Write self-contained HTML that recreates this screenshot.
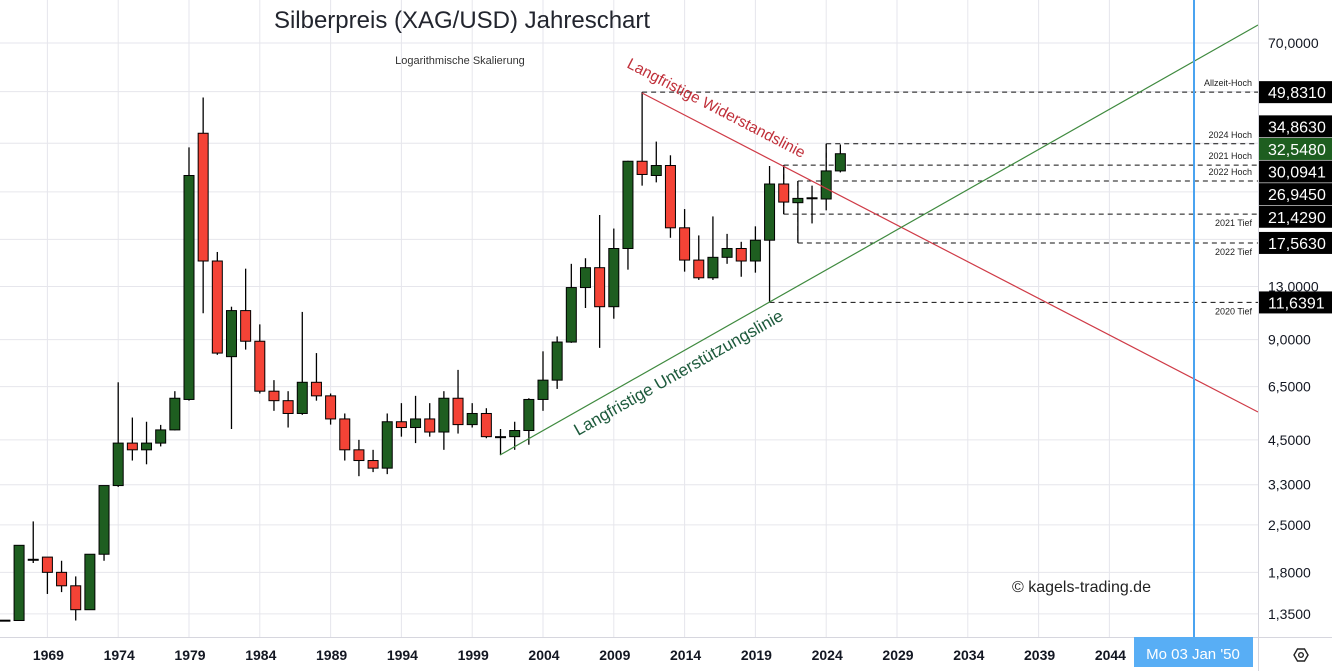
<!DOCTYPE html>
<html><head><meta charset="utf-8"><style>
html,body{margin:0;padding:0;background:#fff;}
svg{display:block;font-family:"Liberation Sans","DejaVu Sans",sans-serif;}
</style></head><body>
<svg id="chart" width="1332" height="671" viewBox="0 0 1332 671" xmlns="http://www.w3.org/2000/svg">
<g id="grid"></g>
<g id="levels"></g>
<g id="candles"></g>
<g id="trend">
<line x1="642" y1="93" x2="1258" y2="412" stroke="#cf3b47" stroke-width="1.2"/>
<line x1="500" y1="455" x2="1258" y2="25" stroke="#3f8a3f" stroke-width="1.2"/>
<text transform="translate(626,67) rotate(27.4)" font-size="15.5" fill="#c0303a">Langfristige Widerstandslinie</text>
<text transform="translate(578,436) rotate(-29.5)" font-size="17" fill="#1d5a3c">Langfristige Unterstützungslinie</text>
</g>
<text x="462" y="28" text-anchor="middle" font-size="24" fill="#22252e">Silberpreis (XAG/USD) Jahreschart</text>
<text x="460" y="64" text-anchor="middle" font-size="11" fill="#333">Logarithmische Skalierung</text>
<text x="1012" y="592" font-size="16" fill="#222">© kagels-trading.de</text>
<line x1="1194" y1="0" x2="1194" y2="637" stroke="#4aa3f0" stroke-width="2"/>
<line x1="1258.5" y1="0" x2="1258.5" y2="671" stroke="#d6d6de"/>
<line x1="0" y1="637.5" x2="1332" y2="637.5" stroke="#d6d6de"/>
<g id="yaxis"></g>
<g id="xaxis"></g>
<g id="tags"></g>
<rect x="1134" y="637" width="119" height="30" fill="#58aef5"/>
<text x="1193" y="659" text-anchor="middle" font-size="15" fill="#fff">Mo 03 Jan '50</text>
<g transform="translate(1301,655)">
<polygon points="7,0 3.5,6 -3.5,6 -7,0 -3.5,-6 3.5,-6" fill="none" stroke="#222" stroke-width="1.4"/>
<circle r="2.3" fill="none" stroke="#222" stroke-width="1.4"/>
</g>
</svg>
<script>
const years=[1966,1967,1968,1969,1970,1971,1972,1973,1974,1975,1976,1977,1978,1979,1980,1981,1982,1983,1984,1985,1986,1987,1988,1989,1990,1991,1992,1993,1994,1995,1996,1997,1998,1999,2000,2001,2002,2003,2004,2005,2006,2007,2008,2009,2010,2011,2012,2013,2014,2015,2016,2017,2018,2019,2020,2021,2022,2023,2024,2025];
const opens=[1.293,1.29,1.96,2.0,1.80,1.64,1.39,2.04,3.28,4.40,4.20,4.40,4.82,5.95,37.5,15.5,8.0,11.0,8.9,6.3,5.9,5.4,6.7,6.1,5.2,4.2,3.9,3.7,5.1,4.9,5.2,4.75,6.0,5.0,5.4,4.6,4.6,4.8,5.95,6.8,8.85,12.9,14.8,11.3,16.9,30.9,28.0,30.0,19.5,15.6,13.8,15.9,16.9,15.5,17.9,26.4,23.2,23.9,23.8,28.9];
const highs=[1.293,2.17,2.56,2.0,1.95,1.75,2.04,3.28,6.70,5.25,5.10,4.99,6.30,34.0,48.0,16.5,11.3,14.7,10.0,6.8,6.3,10.9,8.2,6.2,5.4,4.5,4.2,5.4,5.8,6.1,5.8,6.3,7.3,5.8,5.6,4.85,5.1,6.0,8.3,9.2,15.2,15.8,21.3,19.4,31.0,49.83,35.4,32.2,22.2,18.5,21.1,18.7,17.7,19.7,29.9,30.094,26.945,26.1,34.863,34.7];
const lows=[1.293,1.29,1.92,1.55,1.57,1.29,1.39,1.95,3.25,3.90,3.80,4.30,4.80,5.90,10.8,8.1,4.85,8.4,6.2,5.5,4.9,5.35,5.9,5.0,3.9,3.5,3.6,3.55,4.6,4.4,4.6,4.2,4.7,4.9,4.55,4.05,4.2,4.35,5.5,6.4,8.8,11.2,8.5,10.4,14.6,26.1,26.7,18.2,14.4,13.6,13.6,15.2,13.9,14.3,11.639,21.429,17.563,20.1,22.0,28.6];
const closes=[1.293,2.17,1.97,1.80,1.64,1.39,2.04,3.28,4.40,4.20,4.40,4.82,6.0,28.0,15.5,8.2,11.0,8.9,6.3,5.9,5.4,6.7,6.1,5.2,4.2,3.9,3.7,5.1,4.9,5.2,4.75,6.0,5.0,5.4,4.6,4.6,4.8,5.95,6.8,8.85,12.9,14.8,11.3,16.9,30.9,28.2,30.0,19.5,15.6,13.8,15.9,16.9,15.5,17.9,26.4,23.3,23.9,24.0,28.9,32.548];
const yTicks=[70,13,9,6.5,4.5,3.3,2.5,1.8,1.35];
const yTickLabels=["70,0000","13,0000","9,0000","6,5000","4,5000","3,3000","2,5000","1,8000","1,3500"];
const gridValues=[70,50,35,25,18,13,9,6.5,4.5,3.3,2.5,1.8,1.35];
const xTickYears=[1969,1974,1979,1984,1989,1994,1999,2004,2009,2014,2019,2024,2029,2034,2039,2044];
const levelValues=[49.831,34.863,30.0941,26.945,21.429,17.563,11.6391];
const levelStartYears=[2011,2024,2021,2022,2021,2022,2020];
const levelNotes=["Allzeit-Hoch","2024 Hoch","2021 Hoch","2022 Hoch","2021 Tief","2022 Tief","2020 Tief"];
const tagValues=[49.831,34.863,32.548,30.0941,26.945,21.429,17.563,11.6391];
const tagLabels=["49,8310","34,8630","32,5480","30,0941","26,9450","21,4290","17,5630","11,6391"];

const NS="http://www.w3.org/2000/svg";
const Y=v=>43+(Math.log(70)-Math.log(v))*144.6;
const X=yr=>189+(yr-1979)*14.16;
function mk(tag,attrs,parent,txt){const e=document.createElementNS(NS,tag);for(const k in attrs)e.setAttribute(k,attrs[k]);if(txt!==undefined)e.textContent=txt;parent.appendChild(e);return e;}
const grid=document.getElementById('grid');
gridValues.forEach(v=>{const l=mk('line',{x1:0,x2:1258,y1:Y(v),y2:Y(v),stroke:'#e6e6ec'},grid);

});
xTickYears.forEach(yr=>{const l=mk('line',{x1:X(yr),x2:X(yr),y1:0,y2:637,stroke:'#e6e6ec'},grid);

});
const ya=document.getElementById('yaxis');
yTicks.forEach((v,i)=>{const t=mk('text',{x:1268,y:Y(v)+5,'font-size':14,fill:'#131722'},ya,yTickLabels[i]);

});
const xa=document.getElementById('xaxis');
xTickYears.forEach(yr=>{const t=mk('text',{x:X(yr)+1,y:660,'font-size':14,'font-weight':'bold','text-anchor':'middle',fill:'#131722'},xa,String(yr));

});
const lv=document.getElementById('levels');
levelValues.forEach((v,i)=>{const x0=X(levelStartYears[i]);const l=mk('line',{x1:x0,x2:1258,y1:Y(v),y2:Y(v),stroke:'#111','stroke-dasharray':'5,4'},lv);


const below=(i>=4);const t=mk('text',{x:1252,y:below?Y(v)+12:Y(v)-6,'font-size':9,'text-anchor':'end',fill:'#222'},lv,levelNotes[i]);

});
[[2021,30.0941,21.429],[2022,26.945,17.563],[2024,34.863,28.9]].forEach(a=>{const l=mk('line',{x1:X(a[0]),x2:X(a[0]),y1:Y(a[1]),y2:Y(a[2]),stroke:'#111','stroke-dasharray':'5,4'},lv);

});
const cg=document.getElementById('candles');
years.forEach((yr,i)=>{const x=X(yr),o=opens[i],c=closes[i];const g=mk('g',{},cg);


mk('line',{x1:x,x2:x,y1:Y(highs[i]),y2:Y(lows[i]),stroke:'#000','stroke-width':1.3},g);
const top=Y(Math.max(o,c)),bot=Y(Math.min(o,c));
mk('rect',{x:x-5,y:top,width:10,height:Math.max(bot-top,1),fill:c>=o?'#1e5e20':'#f44336',stroke:'#000','stroke-width':1},g);});
const GAP=22.6;
const pos=tagValues.map(v=>Y(v));
for(let it=0;it<200;it++){for(let i=0;i<pos.length-1;i++){const d=pos[i+1]-pos[i];if(d<GAP){const s=(GAP-d)/2;pos[i]-=s;pos[i+1]+=s;}}}
const tg=document.getElementById('tags');
tagValues.forEach((v,i)=>{const y=pos[i];const g=mk('g',{},tg);


mk('rect',{x:1259,y:y-11,width:73,height:22,fill:i===2?'#1e5e20':'#000'},g);
mk('text',{x:1268,y:y+6,'font-size':16,fill:'#fff'},g,tagLabels[i]);});
</script>
</body></html>
